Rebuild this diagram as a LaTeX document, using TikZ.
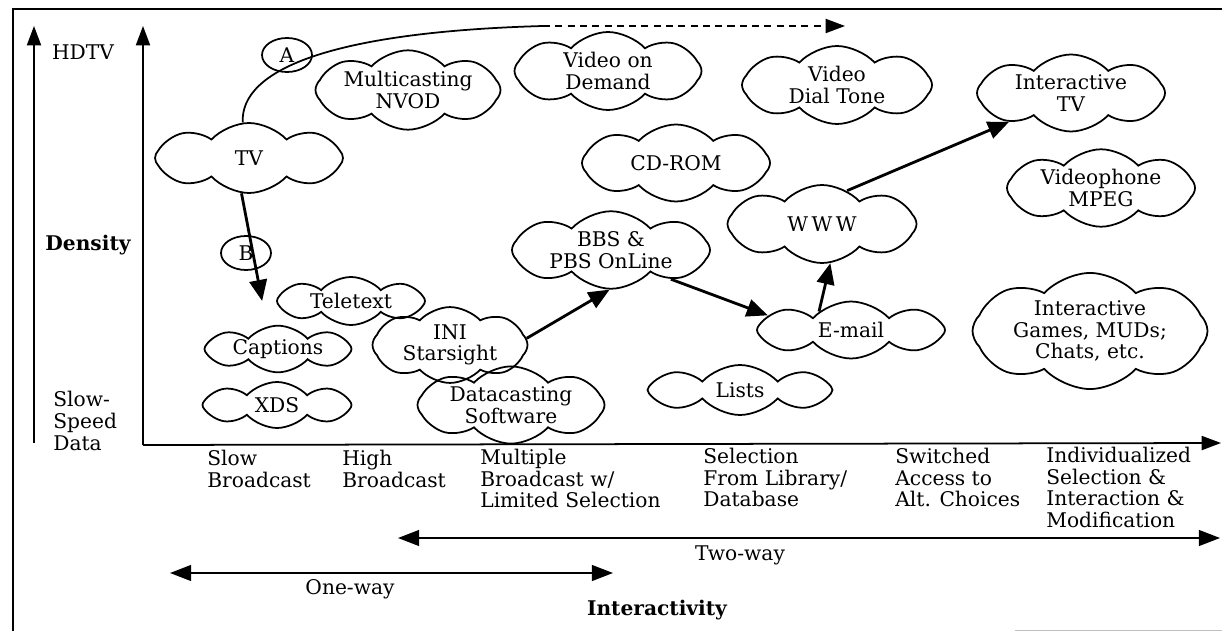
\documentclass[tikz,border=0pt]{standalone}
\usepackage{fontspec}
\setmainfont{DejaVu Serif}
\usetikzlibrary{shapes.symbols,shapes.geometric,arrows.meta}

\tikzset{
  puff/.style={cloud, cloud puffs=8, cloud puff arc=95, cloud ignores aspect,
    draw, line width=1pt, inner sep=0pt, align=center},
  sz/.style 2 args={minimum width=#1*0.02cm, minimum height=#2*0.02cm},
  conn/.style={line width=1.6pt, -{Triangle[length=12pt,width=10pt]}},
  axis/.style={line width=1pt, -{Triangle[length=11pt,width=8pt]}},
  span/.style={line width=1pt, {Triangle[length=12pt,width=9pt]}-{Triangle[length=12pt,width=9pt]}},
  ring/.style={ellipse, draw, line width=1pt, minimum width=1cm, minimum height=0.68cm, inner sep=0pt},
  lbl/.style={align=left, anchor=north west, inner sep=0pt}
}

\begin{document}
\fontsize{11.5}{12.3}\selectfont
\begin{tikzpicture}[x=0.02cm, y=-0.02cm]
  \useasboundingbox (0,0) rectangle (1222,631);

  % frame
  \draw[line width=1pt] (13,631) -- (13,9) -- (1222,9);
  \draw[gray!50, line width=0.4pt] (1015,630) -- (1222,630);

  % axes
  \coordinate (lbot) at (34,443);
  \coordinate (ltop) at (34,26);
  \coordinate (o) at (143,445);
  \coordinate (ytop) at (143,26);
  \coordinate (xend) at (1221,443);
  \draw[axis] (lbot) -- (ltop);
  \draw[axis] (o) -- (ytop);
  \draw[axis] (o) -- (xend);

  \node (hdtv) at (83,52) {HDTV};
  \node[font=\bfseries] (dens) at (88,245) {Density};
  \node[align=left, anchor=west, inner sep=0pt] (slow) at (53,421) {Slow-\\Speed\\Data};

  % clouds
  \node[puff, sz={188}{70}] (tv) at (249,158) {TV};
  \node[puff, sz={185}{70}] (nvod) at (408,90) {Multicasting\\NVOD};
  \node[puff, sz={187}{78}] (vod) at (608,71) {Video on\\Demand};
  \node[puff, sz={190}{78}] (dial) at (837,85) {Video\\Dial Tone};
  \node[puff, sz={188}{77}] (itv) at (1071,93) {Interactive\\TV};
  \node[puff, sz={188}{77}] (cdrom) at (676,163) {CD-ROM};
  \node[puff, sz={188}{77}] (vphone) at (1101,188) {Videophone\\MPEG};
  \node[puff, sz={189}{78}] (www) at (822,224) {W\,W\,W};
  \node[puff, sz={198}{76}] (bbs) at (611,250) {BBS \&\\PBS OnLine};
  \node[puff, sz={148}{48}] (tele) at (351,301) {Teletext};
  \node[puff, sz={147}{45}] (capt) at (278,349) {Captions};
  \node[puff, sz={149}{46}] (xds) at (277,405) {XDS};
  \node[puff, sz={155}{55}] (ini) at (450,345) {INI\\Starsight};
  \node[puff, sz={187}{54}] (dcast) at (511,405) {Datacasting\\Software};
  \node[puff, sz={185}{50}] (lists) at (740,390) {Lists};
  \node[puff, sz={188}{57}] (email) at (851,330) {E-mail};
  \node[puff, sz={235}{102}] (games) at (1090,331) {Interactive\\Games, MUDs;\\Chats, etc.};

  % paths A and B
  \coordinate (dashstart) at (543,26);
  \coordinate (dashtip) at (845,26);
  \draw[line width=1pt] (tv.100) .. controls (240,70) and (330,32) .. (dashstart);
  \draw[line width=1pt, dash pattern=on 4pt off 3pt, -{Triangle[length=11pt,width=8pt]}] (dashstart) -- (dashtip);
  \node[ring] (ra) at (287,55) {A};

  \draw[conn] (tv.258) -- ([xshift=-0.28cm]tele.west);
  \node[ring] (rb) at (246,253) {B};

  % connectors
  \draw[conn] (ini.5) -- (bbs.268);
  \draw[conn] (bbs.334) -- (email.170);
  \draw[conn] (email.150) -- (www.282);
  \draw[conn] (www.53) -- (itv.205);

  % interactivity levels
  \node[lbl] (l1) at (207,450) {Slow\\Broadcast};
  \node[lbl] (l2) at (342,450) {High\\Broadcast};
  \node[lbl] (l3) at (480,449) {Multiple\\Broadcast w/\\Limited Selection};
  \node[lbl] (l4) at (703,448) {Selection\\From Library/\\Database};
  \node[lbl] (l5) at (895,448) {Switched\\Access to\\Alt. Choices};
  \node[lbl] (l6) at (1046,447) {Individualized\\Selection \&\\Interaction \&\\Modification};

  \coordinate (tw1) at (398,538);
  \coordinate (tw2) at (1220,538);
  \draw[span] (tw1) -- (tw2);
  \node (two) at (740,555) {Two-way};
  \coordinate (ow1) at (170,573);
  \coordinate (ow2) at (613,573);
  \draw[span] (ow1) -- (ow2);
  \node (one) at (350,589) {One-way};
  \node[font=\bfseries] (inter) at (657,610) {Interactivity};
\end{tikzpicture}
\end{document}
